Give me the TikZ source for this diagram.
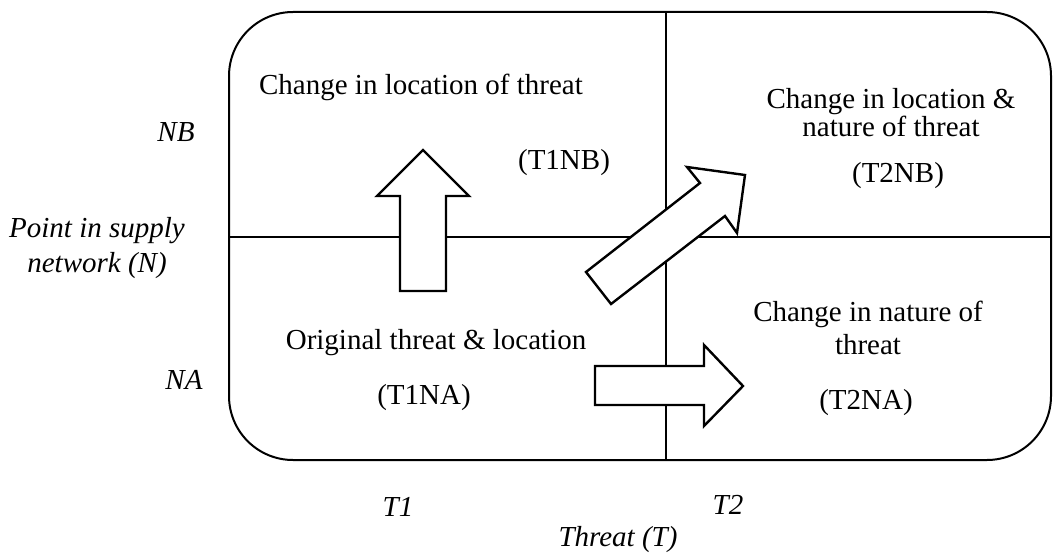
\documentclass[tikz,border=0pt]{standalone}
\usepackage{fontspec}
\setmainfont{Liberation Serif}
\usetikzlibrary{positioning}

\begin{document}
\begin{tikzpicture}[x=0.5pt, y=-0.5pt,
		cell/.style={font=\fontsize{14.5}{14}\selectfont, align=center, inner sep=0pt},
		axis/.style={font=\fontsize{14.5}{17.5}\selectfont\itshape, align=center, inner sep=0pt},
		frame/.style={line width=1pt},
		moveto/.style={line width=1.2pt, fill=white, line join=miter}]
		%%%%% START %%%%%
		
		\useasboundingbox (0, 0) rectangle (1054, 556);
		
		% the four quadrants
		\draw[frame, rounded corners=32pt] (229, 12) rectangle (1051, 460);
		\draw[frame] (666, 12) -- (666, 460);
		\draw[frame] (229, 237) -- (1051, 237);
		
		% shifts between quadrants
		\draw[moveto] (400, 291) -- (400, 196) -- (377, 196) -- (423, 150) -- (469, 196) -- (446, 196) -- (446, 291) -- cycle;
		\draw[moveto] (586, 272) -- (700, 183) -- (687, 167) -- (745, 175) -- (737, 233) -- (725, 216) -- (611, 304) -- cycle;
		\draw[moveto] (595, 366) -- (704, 366) -- (704, 345) -- (743, 386) -- (704, 426) -- (704, 405) -- (595, 405) -- cycle;
		
		% quadrant texts
		\node[cell] (t1nbtxt) at (421, 87) {Change in location of threat};
		\node[cell] (t1nb) at (564, 163) {(T1NB)};
		\node[cell] (t2nbtxt) at (891, 113) {Change in location \&\\nature of threat};
		\node[cell] (t2nb) at (898, 176) {(T2NB)};
		\node[cell] (t1natxt) at (436, 343) {Original threat \& location};
		\node[cell] (t1na) at (424, 398) {(T1NA)};
		\node[cell] (t2natxt) at (868, 328) {Change in nature of\\[2.5pt]threat};
		\node[cell] (t2na) at (866, 403) {(T2NA)};
		
		% axes
		\node[axis] (nb) at (176, 132) {NB};
		\node[axis] (nlabel) at (97, 248) {Point in supply\\network (N)};
		\node[axis] (na) at (184, 380) {NA};
		\node[axis] (t1) at (398, 507) {T1};
		\node[axis] (t2) at (728, 505) {T2};
		\node[axis] (tlabel) at (618, 540) {Threat (T)};
		
		%%%%% END %%%%%
\end{tikzpicture}
\end{document}
